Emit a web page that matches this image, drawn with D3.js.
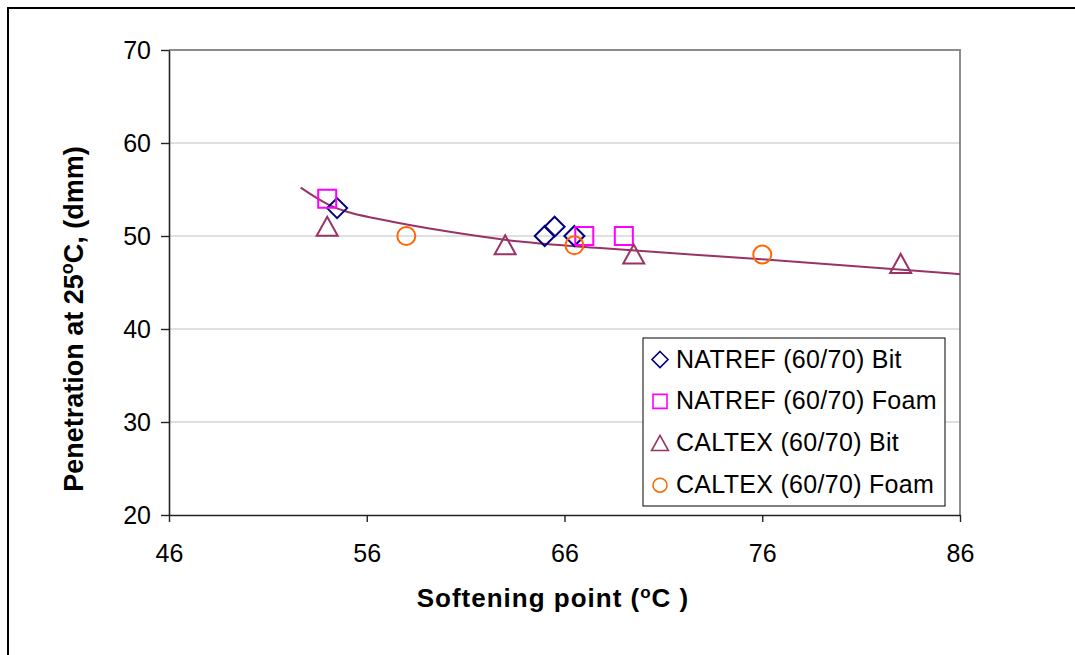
<!DOCTYPE html>
<html>
<head>
<meta charset="utf-8">
<script src="https://cdn.jsdelivr.net/npm/d3@7"></script>
<style>
   body { margin: 0; background: #fff; }
   svg text { font-family: "Liberation Sans", Arial, sans-serif; fill: #000; }
</style>
</head>
<body>
<svg id="drawing" width="1075" height="655"></svg>
<script>
// points: [softening point, penetration]
const natrefBit = [[54.5, 53], [65, 50], [65.5, 51], [66.5, 50]];
const natrefFoam = [[54, 54], [67, 50], [69, 50]];
const caltexBit = [[54, 51], [63, 49], [69.5, 48], [83, 47]];
const caltexFoam = [[58, 50], [66.5, 49], [76, 48]];

// trend line
const trendX = [52.66, 54.14, 55.0, 56.67, 60.04, 63.75, 67.8, 75.97, 86];
const trendY = [55.2, 53.3, 52.6, 51.8, 50.5, 49.4, 48.7, 47.5, 45.9];

const xTicks = [46, 56, 66, 76, 86];
const yTicks = [20, 30, 40, 50, 60, 70];
const legendLabels = ["NATREF (60/70) Bit", "NATREF (60/70) Foam", "CALTEX (60/70) Bit", "CALTEX (60/70) Foam"];

const svg = d3.select("svg#drawing");

const plot = { left: 169, top: 50, right: 960, bottom: 515 };

const x = d3.scaleLinear().domain([46, 86]).range([plot.left, plot.right]);
const y = d3.scaleLinear().domain([20, 70]).range([plot.bottom, plot.top]);

// outer chart border
svg.append("rect")
   .attr("x", 8).attr("y", 8)
   .attr("width", 1100).attr("height", 700)
   .attr("fill", "#fff")
   .attr("stroke", "#000")
   .attr("stroke-width", 2);

// grid
svg.append("g")
   .selectAll("line")
   .data(yTicks.filter(d => d > 20 && d < 70))
   .join("line")
   .attr("x1", plot.left).attr("x2", plot.right)
   .attr("y1", d => y(d)).attr("y2", d => y(d))
   .attr("stroke", "#c0c0c0")
   .attr("stroke-width", 1);

// plot area border (top + right)
svg.append("path")
   .attr("d", `M${plot.left},${plot.top}H${plot.right}V${plot.bottom}`)
   .attr("fill", "none")
   .attr("stroke", "#8c8c8c")
   .attr("stroke-width", 2);

const yAxis = svg.append("g")
   .attr("transform", `translate(${plot.left},0)`)
   .call(d3.axisLeft(y).tickValues(yTicks).tickSize(8).tickPadding(10).tickSizeOuter(0));

const xAxis = svg.append("g")
   .attr("transform", `translate(0,${plot.bottom})`)
   .call(d3.axisBottom(x).tickValues(xTicks).tickSize(7).tickPadding(22).tickSizeOuter(0));

[yAxis, xAxis].forEach(g => {
   g.select(".domain").attr("stroke", "#222").attr("stroke-width", 1.6);
   g.selectAll(".tick line").attr("stroke", "#222").attr("stroke-width", 1.4);
   g.selectAll(".tick text")
      .attr("font-family", "Liberation Sans, Arial, sans-serif")
      .attr("font-size", 25)
      .attr("fill", "#000");
});

// trend line
const line = d3.line()
   .x((d, i) => x(trendX[i]))
   .y(d => y(d))
   .curve(d3.curveMonotoneX);

svg.append("path")
   .attr("d", line(trendY))
   .attr("fill", "none")
   .attr("stroke", "#993366")
   .attr("stroke-width", 2);

// marker shapes
const shapes = {
   diamond: s => `M0,${-s}L${s},0L0,${s}L${-s},0Z`,
   square: s => `M${-s},${-s}H${s}V${s}H${-s}Z`,
   triangle: s => `M0,${-s}L${s * 1.05},${s * 0.9}H${-s * 1.05}Z`,
   circle: s => `M${s},0A${s},${s} 0 1,1 ${-s},0A${s},${s} 0 1,1 ${s},0Z`
};

const series = [
   { data: natrefBit, shape: "diamond", color: "#000080", size: 10 },
   { data: natrefFoam, shape: "square", color: "#ff00ff", size: 9 },
   { data: caltexBit, shape: "triangle", color: "#993366", size: 10 },
   { data: caltexFoam, shape: "circle", color: "#ff6600", size: 9 }
];

series.forEach(s => {
   svg.append("g")
      .selectAll("path")
      .data(s.data)
      .join("path")
      .attr("transform", d => `translate(${x(d[0])},${y(d[1])})`)
      .attr("d", shapes[s.shape](s.size))
      .attr("fill", "none")
      .attr("stroke", s.color)
      .attr("stroke-width", 2);
});

// legend
const legend = svg.append("g");
legend.append("rect")
   .attr("x", 643).attr("y", 338)
   .attr("width", 302).attr("height", 168)
   .attr("fill", "#fff")
   .attr("stroke", "#000")
   .attr("stroke-width", 1);

const rows = legend.selectAll("g")
   .data(series)
   .join("g")
   .attr("transform", (d, i) => `translate(660,${359.5 + i * 41.9})`);

rows.append("path")
   .attr("d", d => shapes[d.shape](d.shape === "square" || d.shape === "circle" ? 7 : 8))
   .attr("fill", "none")
   .attr("stroke", d => d.color)
   .attr("stroke-width", 1.6);

rows.append("text")
   .attr("x", 16)
   .attr("y", 8)
   .attr("font-size", 25)
   .attr("letter-spacing", 0.3)
   .text((d, i) => legendLabels[i]);

// axis titles
const xTitle = svg.append("text")
   .attr("x", 553)
   .attr("y", 607)
   .attr("text-anchor", "middle")
   .attr("font-size", 26)
   .attr("font-weight", "bold")
   .attr("letter-spacing", 1);
xTitle.append("tspan").text("Softening point (");
xTitle.append("tspan").attr("baseline-shift", "super").attr("font-size", 17).text("o");
xTitle.append("tspan").text("C )");

const yTitle = svg.append("text")
   .attr("transform", "translate(83,319) rotate(-90)")
   .attr("text-anchor", "middle")
   .attr("font-size", 27)
   .attr("font-weight", "bold");
yTitle.append("tspan").text("Penetration at 25");
yTitle.append("tspan").attr("baseline-shift", "super").attr("font-size", 18).text("o");
yTitle.append("tspan").text("C, (dmm)");
</script>
</body>
</html>
